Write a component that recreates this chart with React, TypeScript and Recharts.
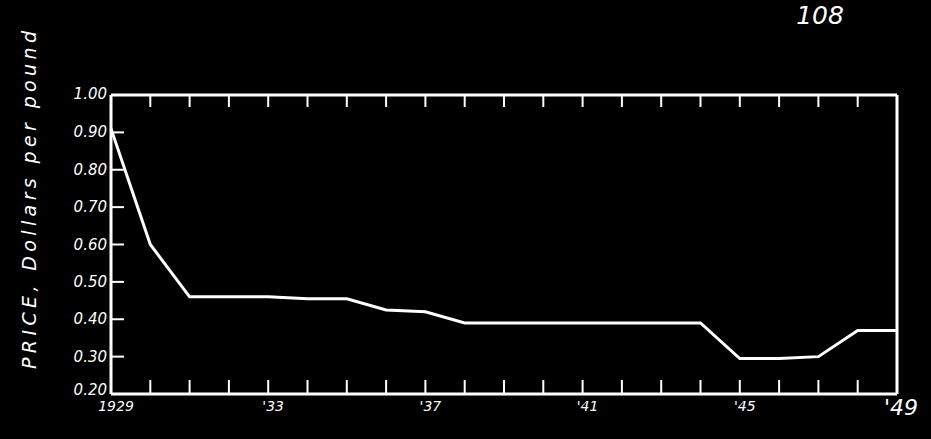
import { LineChart, Line, XAxis, YAxis } from "recharts";

// Price, dollars per pound, 1929-1949
const years = [
  1929, 1930, 1931, 1932, 1933, 1934, 1935, 1936, 1937, 1938, 1939,
  1940, 1941, 1942, 1943, 1944, 1945, 1946, 1947, 1948, 1949,
];
const prices = [
  0.91, 0.6, 0.46, 0.46, 0.46, 0.455, 0.455, 0.425, 0.42, 0.39, 0.39,
  0.39, 0.39, 0.39, 0.39, 0.39, 0.295, 0.295, 0.3, 0.37, 0.37,
];
const priceTicks = [0.2, 0.3, 0.4, 0.5, 0.6, 0.7, 0.8, 0.9, 1.0];
const sideTicks = [0.3, 0.4, 0.5, 0.6, 0.7, 0.8, 0.9];
const topTicks = years.slice(1, -1);
const yearLabels: Record<number, string> = {
  1929: "1929",
  1933: "'33",
  1937: "'37",
  1941: "'41",
  1945: "'45",
  1949: "'49",
};

const data = years.map((year, i) => ({ year, price: prices[i] }));

const FONT = "'DejaVu Sans', sans-serif";
const WHITE = "#ffffff";

// tick marks only, no label
const NoLabel = () => <g />;

function YearTick(props: any) {
  const { x, y, payload } = props;
  const label = yearLabels[payload.value];
  if (!label) return <g />;
  const big = payload.value === 1949;
  return (
    <text
      x={x + (big ? 4 : 5)}
      y={y}
      dy={big ? 19 : 15}
      textAnchor="middle"
      fill={WHITE}
      fontSize={big ? 22 : 14}
      fontStyle="italic"
      fontFamily={FONT}
      fontWeight={300}
    >
      {label}
    </text>
  );
}

function PriceTick(props: any) {
  const { x, y, payload } = props;
  const v = payload.value as number;
  // the bottom label sits a little above the corner, as in the drawing
  const shift = v === 0.2 ? -4 : v === 1.0 ? -1 : 0;
  return (
    <text
      x={x}
      y={y + shift}
      dy={5}
      textAnchor="end"
      fill={WHITE}
      fontSize={15}
      fontStyle="italic"
      fontFamily={FONT}
      fontWeight={300}
    >
      {v.toFixed(2)}
    </text>
  );
}

export default function App() {
  return (
    <div
      style={{
        position: "absolute",
        left: 0,
        top: 0,
        width: 931,
        height: 439,
        background: "#000",
        overflow: "hidden",
      }}
    >
      <LineChart
        width={931}
        height={439}
        data={data}
        margin={{ top: 93, right: 32, bottom: 15, left: 51 }}
      >
        <XAxis
          xAxisId="bottom"
          dataKey="year"
          type="number"
          domain={[1929, 1949]}
          ticks={years}
          interval={0}
          height={30}
          axisLine={{ stroke: WHITE, strokeWidth: 3 }}
          tickLine={{ stroke: WHITE, strokeWidth: 2 }}
          tickSize={-14}
          tickMargin={16}
          tick={YearTick}
        />
        <XAxis
          xAxisId="top"
          orientation="top"
          dataKey="year"
          type="number"
          domain={[1929, 1949]}
          ticks={topTicks}
          interval={0}
          height={2}
          axisLine={{ stroke: WHITE, strokeWidth: 3 }}
          tickLine={{ stroke: WHITE, strokeWidth: 2 }}
          tickSize={-12}
          tick={NoLabel}
        />
        <YAxis
          yAxisId="left"
          type="number"
          domain={[0.2, 1.0]}
          ticks={priceTicks}
          interval={0}
          width={60}
          axisLine={{ stroke: WHITE, strokeWidth: 3 }}
          tickLine={{ stroke: WHITE, strokeWidth: 2 }}
          tickSize={-13}
          tickMargin={17}
          tick={PriceTick}
        />
        <YAxis
          yAxisId="right"
          orientation="right"
          type="number"
          domain={[0.2, 1.0]}
          ticks={sideTicks}
          interval={0}
          width={2}
          axisLine={{ stroke: WHITE, strokeWidth: 3 }}
          tickLine={{ stroke: WHITE, strokeWidth: 2 }}
          tickSize={-26}
          tick={NoLabel}
        />
        <Line
          xAxisId="bottom"
          yAxisId="left"
          type="linear"
          dataKey="price"
          stroke={WHITE}
          strokeWidth={3}
          dot={false}
          isAnimationActive={false}
        />
      </LineChart>
      <svg
        width={931}
        height={439}
        style={{ position: "absolute", left: 0, top: 0, pointerEvents: "none" }}
      >
        <text
          transform="translate(36, 200) rotate(-90)"
          textAnchor="middle"
          fill={WHITE}
          fontSize={19}
          fontStyle="italic"
          fontFamily={FONT}
          fontWeight={300}
          textLength={338}
          lengthAdjust="spacing"
        >
          PRICE, Dollars per pound
        </text>
        <text
          x={820}
          y={24}
          textAnchor="middle"
          fill={WHITE}
          fontSize={25}
          fontStyle="italic"
          fontFamily={FONT}
          fontWeight={300}
        >
          108
        </text>
      </svg>
    </div>
  );
}
